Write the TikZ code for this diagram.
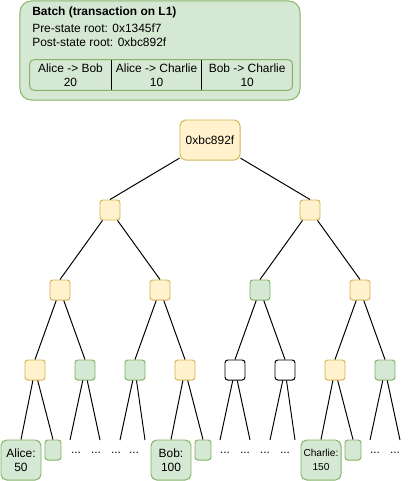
\documentclass[tikz,border=0pt]{standalone}
\usepackage{fontspec}
\setmainfont{Liberation Sans}
\usetikzlibrary{positioning}
\definecolor{hashBg}{HTML}{FFF2CC}
\definecolor{hashBorder}{HTML}{D6B656}
\definecolor{leafBg}{HTML}{D5E8D4}
\definecolor{leafBorder}{HTML}{82B366}
\newcommand{\pxfont}{\fontsize{8.5}{10}\selectfont}
\tikzset{
  box/.style={draw=#1Border, fill=#1Bg, rounded corners=2pt, line width=0.7pt,
    minimum width=0.5cm, minimum height=0.5cm, inner sep=0pt},
  blank/.style={draw=black, fill=white, rounded corners=2pt, line width=0.7pt,
    minimum width=0.5cm, minimum height=0.5cm, inner sep=0pt},
  acct/.style={box=leaf, rounded corners=4pt, minimum size=1cm,
    align=center, font=\pxfont},
  stub/.style={box=leaf, minimum width=0.4cm, minimum height=0.5cm},
  more/.style={inner sep=0pt, font=\pxfont},
  link/.style={line width=0.7pt, black},
  cell/.style={minimum width=#1, minimum height=0.75cm, inner sep=0pt,
    align=center, font=\pxfont},
  batchtxt/.style={anchor=base west, inner sep=0pt, font=\pxfont}
}

\begin{document}
\begin{tikzpicture}[x=0.025cm,y=-0.025cm]
  \useasboundingbox (0,0) rectangle (411,481);
  \node[box=leaf, rounded corners=8pt, minimum width=7cm, minimum height=2.475cm] (batch) at (160,50.5) {};
  \node[batchtxt, font=\pxfont\bfseries] (title) at (32,15.5) {Batch (transaction on L1)};
  \node[batchtxt] (pre) at (32,32) {Pre-state root: 0x1345f7};
  \node[batchtxt] (post) at (32,46) {Post-state root: 0xbc892f};
  \node[cell=2.025cm] (tx1) at (70.5,75) {Alice -> Bob\\20};
  \node[cell=2.25cm, right=0pt of tx1] (tx2) {Alice -> Charlie\\10};
  \node[cell=2.25cm, right=0pt of tx2] (tx3) {Bob -> Charlie\\10};
  \draw[link] (tx1.north east) -- (tx1.south east);
  \draw[link] (tx2.north east) -- (tx2.south east);
  \draw[leafBorder, rounded corners=3pt, line width=0.7pt] (tx1.north west) rectangle (tx3.south east);

  \node[box=hash, rounded corners=4pt, minimum width=1.5cm, minimum height=1cm, font=\pxfont] (root) at (210,140) {0xbc892f};
  \node[box=hash] (l1a) at (110,210) {};
  \node[box=hash] (l1b) at (310,210) {};
  \node[box=hash] (l2a) at (60,290) {};
  \node[box=hash] (l2b) at (160,290) {};
  \node[box=leaf] (l2c) at (260,290) {};
  \node[box=hash] (l2d) at (360,290) {};
  \node[box=hash] (l3a) at (35,370) {};
  \node[box=leaf] (l3b) at (85,370) {};
  \node[box=leaf] (l3c) at (135,370) {};
  \node[box=hash] (l3d) at (185,370) {};
  \node[blank] (l3e) at (235,370) {};
  \node[blank] (l3f) at (285,370) {};
  \node[box=hash] (l3g) at (335,370) {};
  \node[box=leaf] (l3h) at (385,370) {};

  \node[acct] (alice) at (21,460) {Alice:\\50};
  \node[stub] (stubA) at (53,450) {};
  \node[acct] (bob) at (171,460) {Bob:\\100};
  \node[stub] (stubB) at (203,450) {};
  \node[acct, font=\fontsize{7.2}{10}\selectfont] (charlie) at (321,460) {Charlie:\\150};
  \node[stub] (stubC) at (353,450) {};

  \foreach \n/\x in {d1/76, d2/96, d3/116, d4/134, d5/225, d6/245, d7/265, d8/285, d9/375, d10/395}
    \node[more] (\n) at (\x,453) {...};
  \foreach \n/\x in {e1/70, e2/100, e3/120, e4/145, e5/220, e6/250, e7/270, e8/295, e9/370, e10/400}
    \coordinate (\n) at (\x,440);

  \foreach \p/\c in {root/l1a, root/l1b, l1a/l2a, l1a/l2b, l1b/l2c, l1b/l2d,
      l2a/l3a, l2a/l3b, l2b/l3c, l2b/l3d, l2c/l3e, l2c/l3f, l2d/l3g, l2d/l3h,
      l3a/alice, l3a/stubA, l3d/bob, l3d/stubB, l3g/charlie, l3g/stubC}
    \draw[link] (\p) -- (\c.north);
  \foreach \p/\c in {l3b/e1, l3b/e2, l3c/e3, l3c/e4, l3e/e5, l3e/e6, l3f/e7, l3f/e8, l3h/e9, l3h/e10}
    \draw[link] (\p) -- (\c);
\end{tikzpicture}
\end{document}
